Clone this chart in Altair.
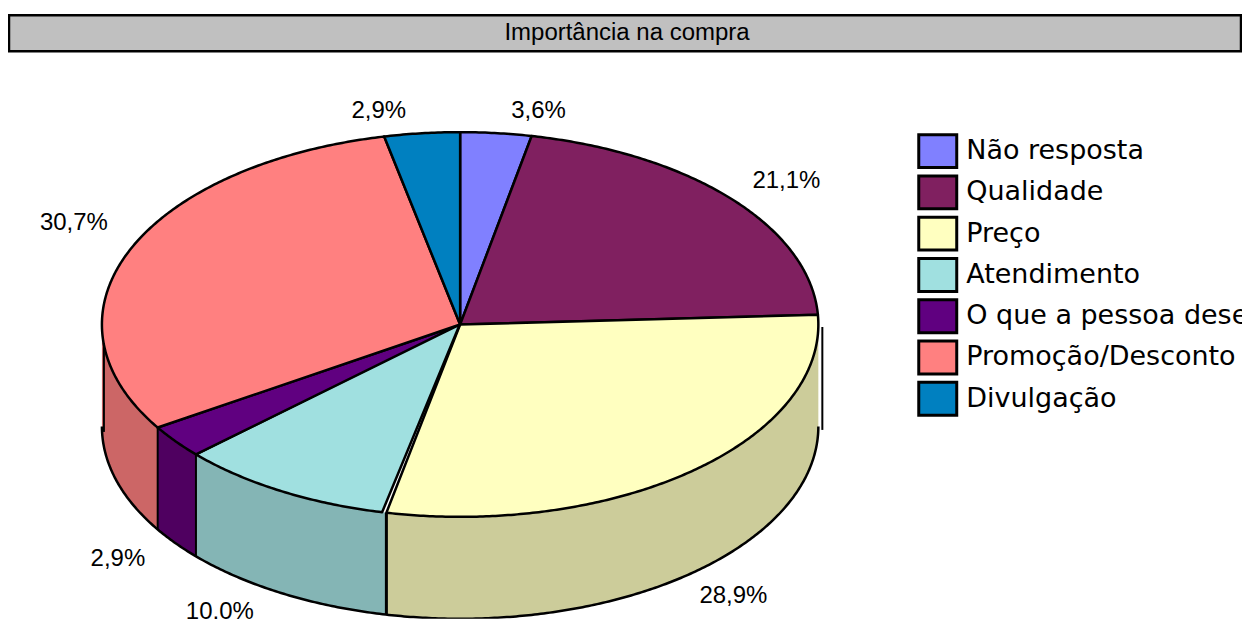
import math
import altair as alt

# ---- chart values ----
categories = ["Não resposta", "Qualidade", "Preço", "Atendimento",
              "O que a pessoa deseja", "Promoção/Desconto", "Divulgação"]
printed_labels = ["3,6%", "21,1%", "28,9%", "10,0%", "2,9%", "30,7%", "2,9%"]
# share of the ellipse each slice occupies in the drawing
drawn_shares = [3.2, 21.0, 29.1, 9.9, 2.8, 30.6, 3.4]
top_colors = ["#8080FF", "#802060", "#FFFFC0", "#A0E0E0", "#600080", "#FF8080", "#0080C0"]
side_colors = ["#665AB0", "#661A4D", "#CCCC9A", "#84B5B5", "#4F0060", "#CC6666", "#006699"]
title_text = "Importância na compra"

# ---- layout (page pixels; the chart starts at page pixel 8) ----
O = 8
CX, CY, RX, RY, DEPTH = 460.5 - O, 324.5 - O, 358.5, 192.5, 102
label_anchor = [(539, 111), (787, 181), (734, 596), (220, 612), (118, 559), (74, 223), (379, 111)]


def rim(t, drop=0.0):
    a = math.radians(t)
    return [CX + RX * math.sin(a), CY - RY * math.cos(a) + drop]


def arc(t0, t1, drop=0.0):
    n = max(2, int(abs(t1 - t0) * 2))
    return [rim(t0 + (t1 - t0) * i / n, drop) for i in range(n + 1)]


def poly(points, **props):
    ring = points + [points[0]]
    return {"type": "Feature", "properties": props,
            "geometry": {"type": "Polygon", "coordinates": [ring]}}


def line(points, **props):
    return {"type": "Feature", "properties": props,
            "geometry": {"type": "LineString", "coordinates": points}}


total = sum(drawn_shares)
edges_t = [0.0]
for s in drawn_shares:
    edges_t.append(edges_t[-1] + s / total * 360)

top_features, side_features, edge_features = [], [], []
for i, name in enumerate(categories):
    t0, t1 = edges_t[i], edges_t[i + 1]
    # the yellow slice stops just short of its neighbour, leaving a sliver
    top_t0 = t0 + (0.7 if name == "Atendimento" else 0)
    centre = [CX, CY + (-1 if name == "Atendimento" else 0)]
    top_features.append(poly([centre] + arc(top_t0, t1), name=name))
    a, b = max(t0, 90), min(t1, 270)
    if a < b:
        side_features.append(poly(arc(a, b) + arc(b, a, DEPTH), name=name, fill=side_colors[i]))
    if 90 < t1 < 270:
        edge_features.append(line([rim(t1), rim(t1, DEPTH)], w=3 if name == "Preço" else 2))

edge_features.append(line(arc(90, 270, DEPTH), w=2.5))
edge_features.append(line([[823 - O, 327 - O], [823 - O, 430 - O]], w=2))
edge_features.append(line([[104 - O, 343 - O], [104 - O, 432 - O]], w=2))

projection = dict(type="identity", scale=1, translate=[0, 0])

one_row = alt.Data(values=[{"text": title_text}])
banner = alt.Chart(one_row).mark_rect(
    fill="#C0C0C0", stroke="black", strokeWidth=2.5
).encode(x=alt.value(1), x2=alt.value(1234), y=alt.value(7), y2=alt.value(43))
banner_text = alt.Chart(one_row).mark_text(
    font="Liberation Sans", fontSize=24, color="black", align="center", baseline="middle"
).encode(x=alt.value(627.5 - O), y=alt.value(33 - O), text="text:N")

sides = alt.Chart(alt.Data(values=side_features)).mark_geoshape(strokeWidth=0).encode(
    fill=alt.Fill("properties.fill:N", scale=None, legend=None)
).project(**projection)

edges = alt.Chart(alt.Data(values=edge_features)).mark_geoshape(filled=False, stroke="black").encode(
    strokeWidth=alt.StrokeWidth("properties.w:Q", scale=None, legend=None)
).project(**projection)

legend = alt.Legend(
    title=None, orient="none", legendX=917 - O + 7, legendY=136.5 - O,
    symbolType="M-1.5,-1.3H1.5V1.3H-1.5Z", symbolSize=642, symbolStrokeColor="black",
    symbolStrokeWidth=3, symbolOpacity=1, rowPadding=-3.7, labelOffset=14,
    labelFont="DejaVu Sans", labelFontSize=27, labelColor="black", labelLimit=1000,
    values=categories,
)
tops = alt.Chart(alt.Data(values=top_features)).mark_geoshape(
    stroke="black", strokeWidth=2.5, strokeJoin="round"
).encode(
    color=alt.Color("properties.name:N",
                    scale=alt.Scale(domain=categories, range=top_colors),
                    sort=categories, legend=legend)
).project(**projection)

label_rows = [{"label": l, "px": p[0] - O, "py": p[1] - O}
              for l, p in zip(printed_labels, label_anchor)]
labels = alt.Chart(alt.Data(values=label_rows)).mark_text(
    font="Liberation Sans", fontSize=24, color="black", align="center", baseline="middle"
).encode(
    x=alt.X("px:Q", scale=None, axis=None),
    y=alt.Y("py:Q", scale=None, axis=None),
    text="label:N",
)

chart = alt.layer(banner, banner_text, sides, tops, edges, labels).properties(
    width=1235, height=611, padding=0,
    autosize=alt.AutoSizeParams(type="none"),
).configure_view(stroke=None)

chart.save("out.html", embed_options={"renderer": "svg", "actions": False})
